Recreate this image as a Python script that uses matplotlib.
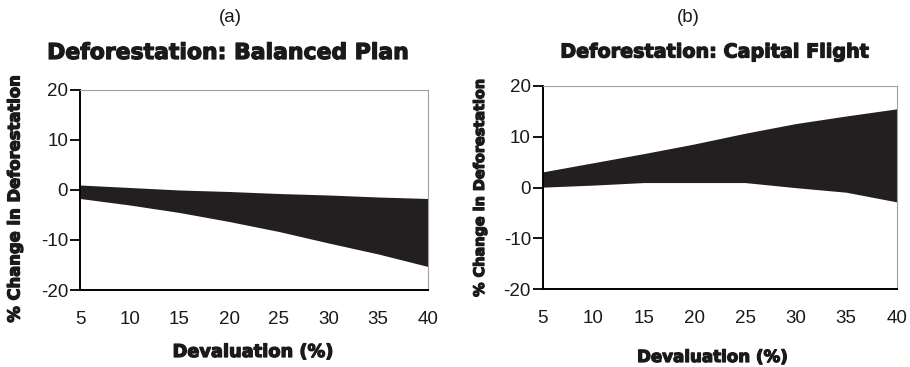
import matplotlib.pyplot as plt
import matplotlib.patheffects as pe

plt.rcParams["axes.unicode_minus"] = False

devaluation = [5, 10, 15, 20, 25, 30, 35, 40]

# panel (a) balanced plan: band of % change in deforestation
balanced_upper = [1.0, 0.5, 0.0, -0.3, -0.7, -1.0, -1.4, -1.7]
balanced_lower = [-1.7, -3.0, -4.5, -6.3, -8.3, -10.6, -12.8, -15.3]

# panel (b) capital flight
flight_upper = [3.1, 4.9, 6.7, 8.6, 10.7, 12.6, 14.1, 15.5]
flight_lower = [0.1, 0.5, 1.0, 1.0, 1.0, 0.0, -0.9, -2.8]

y_ticks = [-20, -10, 0, 10, 20]
x_labels = [5, 10, 15, 20, 25, 30, 35, 40]
x_marks = [5, 15, 25, 35]

FILL = "#231f20"
TICK_FONT = "Liberation Sans"
BOLD_FONT = "DejaVu Sans"
HEAVY = [pe.withStroke(linewidth=0.9, foreground="#1a1a1a")]


def style_axes(ax):
    ax.set_xlim(5, 40)
    ax.set_ylim(-20, 20)
    ax.set_yticks(y_ticks)
    ax.set_xticks(x_labels)
    ax.set_xticks(x_marks, minor=True)
    ax.tick_params(axis="x", which="major", length=0, pad=15)
    ax.tick_params(axis="x", which="minor", length=5, width=1.3, labelbottom=False)
    ax.tick_params(axis="y", length=7, width=1.3, pad=1.5)
    for lab in ax.get_xticklabels() + ax.get_yticklabels():
        lab.set_fontfamily(TICK_FONT)
        lab.set_fontsize(13.5)
        lab.set_color("#1a1a1a")
    for side in ("left", "bottom"):
        ax.spines[side].set_linewidth(1.4)
        ax.spines[side].set_color("black")
    for side in ("top", "right"):
        ax.spines[side].set_linewidth(0.8)
        ax.spines[side].set_color("#a0a0a0")


def heavy_text(x, y, s, size, **kw):
    fig.text(x, y, s, ha="center", va="center", fontfamily=BOLD_FONT,
             fontweight="bold", fontsize=size, color="#1a1a1a",
             path_effects=HEAVY, **kw)


fig = plt.figure(figsize=(9.1, 3.67), dpi=100)

ax_a = fig.add_axes([0.0879, 0.2098, 0.3824, 0.545])
ax_a.fill_between(devaluation, balanced_lower, balanced_upper, color=FILL, lw=0)
style_axes(ax_a)

ax_b = fig.add_axes([0.5964, 0.2117, 0.389, 0.554])
ax_b.fill_between(devaluation, flight_lower, flight_upper, color=FILL, lw=0)
style_axes(ax_b)

# panel letters
fig.text(230 / 910, 1 - 17 / 367, "(a)", ha="center", va="center",
         fontfamily=TICK_FONT, fontsize=13.5, color="#1a1a1a")
fig.text(688 / 910, 1 - 18 / 367, "(b)", ha="center", va="center",
         fontfamily=TICK_FONT, fontsize=13.5, color="#1a1a1a")

# titles
heavy_text(229 / 910, 1 - 53 / 367, "Deforestation: Balanced Plan", 15.8)
heavy_text(715 / 910, 1 - 52 / 367, "Deforestation: Capital Flight", 13.8)

# y labels
heavy_text(15 / 910, 1 - 199 / 367, "% Change in Deforestation", 11.8, rotation=90)
heavy_text(480 / 910, 1 - 188 / 367, "% Change in Deforestation", 10.4, rotation=90)

# x labels
heavy_text(253 / 910, 1 - 352 / 367, "Devaluation (%)", 12.8)
heavy_text(712 / 910, 1 - 357 / 367, "Devaluation (%)", 12.0)

fig.savefig("out.png", dpi=100)
